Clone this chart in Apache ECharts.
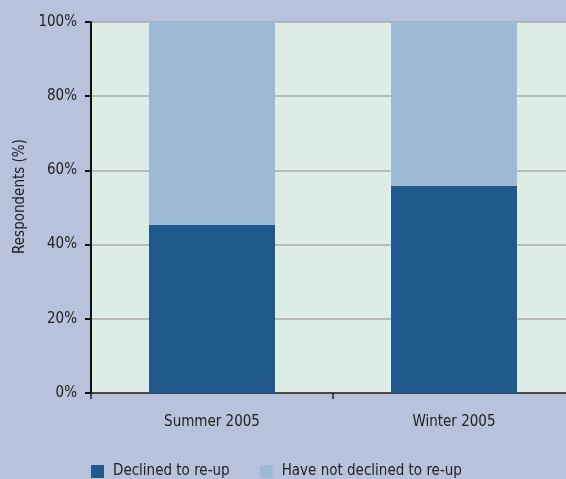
<!DOCTYPE html>
<html><head><meta charset="utf-8">
<script src="https://cdn.jsdelivr.net/npm/echarts@6/dist/echarts.min.js"></script>
<style>html,body{margin:0;padding:0;background:#b8c2dc;}#c{width:566px;height:479px;}</style>
</head><body><div id="c"></div>
<script>
const categories = ['Summer 2005', 'Winter 2005'];
const declined = [45.3, 55.8];
const notDeclined = [54.7, 44.2];
const yTicks = ['0%', '20%', '40%', '60%', '80%', '100%'];

const font = '"DejaVu Sans Condensed", sans-serif';
const chart = echarts.init(document.getElementById('c'));
chart.setOption({
  backgroundColor: '#b8c2dc',
  animation: false,
  textStyle: {fontFamily: font},
  grid: {left: 91, width: 484, top: 22, height: 371, outerBoundsMode: 'none', containLabel: false,
         show: true, backgroundColor: '#deece6', borderWidth: 0},
  legend: {
    top: 464, left: 91, padding: 0, itemGap: 30, itemWidth: 13, itemHeight: 13, icon: 'rect',
    textStyle: {fontFamily: font, fontSize: 15, color: '#222', padding: [0, 0, 0, 4]},
    data: ['Declined to re-up', 'Have not declined to re-up']
  },
  xAxis: {
    type: 'category', data: categories,
    axisLine: {lineStyle: {color: '#222', width: 1.5}},
    axisTick: {show: true, length: 6, lineStyle: {color: '#222', width: 1.5}},
    axisLabel: {fontFamily: font, fontSize: 15, color: '#222', margin: 22}
  },
  yAxis: {
    type: 'value', min: 0, max: 100, interval: 20,
    name: 'Respondents (%)', nameLocation: 'middle', nameGap: 63,
    nameTextStyle: {fontFamily: font, fontSize: 15, color: '#222', padding: [0, 0, 0, 22]},
    axisLine: {show: true, lineStyle: {color: '#111', width: 2}},
    axisTick: {show: true, length: 6, lineStyle: {color: '#111', width: 2}},
    axisLabel: {fontFamily: font, fontSize: 15, color: '#222', margin: 14,
      formatter: v => yTicks[Math.round(v / 20)]},
    splitLine: {lineStyle: {color: '#a8aaa8', width: 1.5}}
  },
  series: [
    {name: 'Declined to re-up', type: 'bar', stack: 's', data: declined, barWidth: 126,
     itemStyle: {color: '#205a8c'}},
    {name: 'Have not declined to re-up', type: 'bar', stack: 's', data: notDeclined, barWidth: 126,
     itemStyle: {color: '#9dbbd7'}}
  ]
});
</script></body></html>
